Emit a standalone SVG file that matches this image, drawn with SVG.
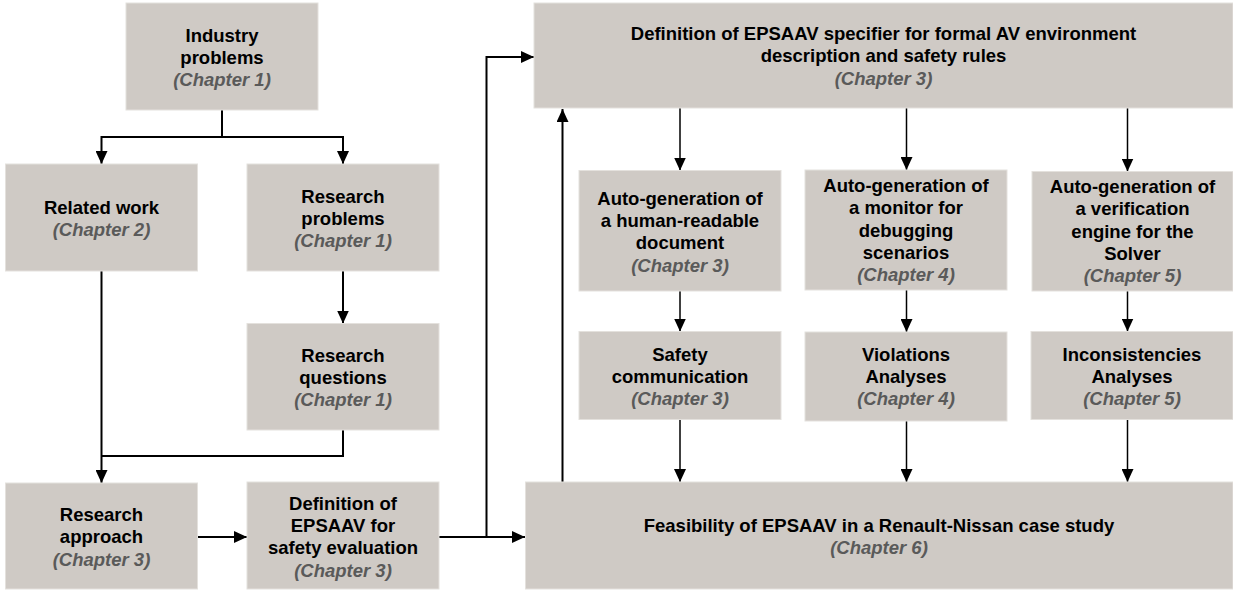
<svg xmlns="http://www.w3.org/2000/svg" width="1233" height="590" viewBox="0 0 1233 590">
  <style>
    .box { fill: #cfcac5; stroke: #e4e1dd; stroke-width: 1; }
    text { font-family: "Liberation Sans", Arial, sans-serif; font-size: 18.5px; font-weight: bold; text-anchor: middle; fill: #000; }
    .ch { font-style: italic; fill: #5a5a5a; }
    .conn { fill: none; stroke: #000; }
    .thick { stroke-width: 2; }
    .thin { stroke-width: 1.5; }
  </style>
  <defs>
    <marker id="arrow" viewBox="0 0 13 12" refX="13" refY="6" markerWidth="13" markerHeight="12" markerUnits="userSpaceOnUse" orient="auto">
      <path d="M0,0 L13,6 L0,12 z" fill="#000"/>
    </marker>
  </defs>
  <rect width="1233" height="590" fill="#fff"/>

  <!-- connectors -->
  <g id="connectors">
    <path class="conn thick" d="M222,110 V137 H101.5 V164" marker-end="url(#arrow)"/>
    <path class="conn thick" d="M222,137 H343 V164" marker-end="url(#arrow)"/>
    <path class="conn thick" d="M101.5,271 V483" marker-end="url(#arrow)"/>
    <path class="conn thick" d="M343,271 V323.5" marker-end="url(#arrow)"/>
    <path class="conn thick" d="M343,430 V456 H101.5"/>
    <path class="conn thick" d="M197,537 H247" marker-end="url(#arrow)"/>
    <path class="conn thick" d="M439,537 H525" marker-end="url(#arrow)"/>
    <path class="conn thick" d="M486.5,537 V57 H534" marker-end="url(#arrow)"/>
    <path class="conn thick" d="M562.5,482 V109" marker-end="url(#arrow)"/>
    <path class="conn thin" d="M680,108 V170.5" marker-end="url(#arrow)"/>
    <path class="conn thin" d="M906.5,108 V170" marker-end="url(#arrow)"/>
    <path class="conn thin" d="M1127.5,108 V171.5" marker-end="url(#arrow)"/>
    <path class="conn thin" d="M680,291 V331.5" marker-end="url(#arrow)"/>
    <path class="conn thin" d="M906.5,290 V332" marker-end="url(#arrow)"/>
    <path class="conn thin" d="M1127.5,291 V331.5" marker-end="url(#arrow)"/>
    <path class="conn thin" d="M680,419.5 V482" marker-end="url(#arrow)"/>
    <path class="conn thin" d="M906.5,421 V482" marker-end="url(#arrow)"/>
    <path class="conn thin" d="M1127.5,419.5 V482" marker-end="url(#arrow)"/>
  </g>

  <g id="industry-problems">
    <rect class="box" x="126" y="3" width="192" height="107"/>
    <text x="222" y="41.5">Industry</text>
    <text x="222" y="63.5">problems</text>
    <text class="ch" x="222" y="85.5">(Chapter 1)</text>
  </g>

  <g id="related-work">
    <rect class="box" x="5.5" y="164" width="192" height="107"/>
    <text x="101.5" y="213.5">Related work</text>
    <text class="ch" x="101.5" y="235.5">(Chapter 2)</text>
  </g>

  <g id="research-problems">
    <rect class="box" x="247" y="164" width="192" height="107"/>
    <text x="343" y="203">Research</text>
    <text x="343" y="225">problems</text>
    <text class="ch" x="343" y="247">(Chapter 1)</text>
  </g>

  <g id="research-questions">
    <rect class="box" x="247" y="323.5" width="192" height="106.5"/>
    <text x="343" y="362">Research</text>
    <text x="343" y="384">questions</text>
    <text class="ch" x="343" y="406">(Chapter 1)</text>
  </g>

  <g id="research-approach">
    <rect class="box" x="5.5" y="483" width="192" height="106"/>
    <text x="101.5" y="521">Research</text>
    <text x="101.5" y="543">approach</text>
    <text class="ch" x="101.5" y="565.5">(Chapter 3)</text>
  </g>

  <g id="epsaav-definition">
    <rect class="box" x="247" y="482" width="192" height="107"/>
    <text x="343" y="510">Definition of</text>
    <text x="343" y="532">EPSAAV for</text>
    <text x="343" y="554">safety evaluation</text>
    <text class="ch" x="343" y="576.5">(Chapter 3)</text>
  </g>

  <g id="epsaav-specifier">
    <rect class="box" x="534" y="3" width="699" height="105"/>
    <text x="883.5" y="40">Definition of EPSAAV specifier for formal AV environment</text>
    <text x="883.5" y="62">description and safety rules</text>
    <text class="ch" x="883.5" y="84.5">(Chapter 3)</text>
  </g>

  <g id="human-readable-document">
    <rect class="box" x="579" y="170.5" width="202" height="120.5"/>
    <text x="680" y="205">Auto-generation of</text>
    <text x="680" y="227">a human-readable</text>
    <text x="680" y="249">document</text>
    <text class="ch" x="680" y="271.5">(Chapter 3)</text>
  </g>

  <g id="debugging-monitor">
    <rect class="box" x="805" y="170" width="202" height="120"/>
    <text x="906" y="192">Auto-generation of</text>
    <text x="906" y="214">a monitor for</text>
    <text x="906" y="236.5">debugging</text>
    <text x="906" y="258.5">scenarios</text>
    <text class="ch" x="906" y="281">(Chapter 4)</text>
  </g>

  <g id="verification-engine">
    <rect class="box" x="1032" y="171.5" width="201" height="119.5"/>
    <text x="1132.5" y="192.5">Auto-generation of</text>
    <text x="1132.5" y="215">a verification</text>
    <text x="1132.5" y="237.5">engine for the</text>
    <text x="1132.5" y="259.5">Solver</text>
    <text class="ch" x="1132.5" y="282">(Chapter 5)</text>
  </g>

  <g id="safety-communication">
    <rect class="box" x="579" y="331.5" width="202" height="88"/>
    <text x="680" y="361">Safety</text>
    <text x="680" y="383">communication</text>
    <text class="ch" x="680" y="405">(Chapter 3)</text>
  </g>

  <g id="violations-analyses">
    <rect class="box" x="805" y="332" width="202" height="89"/>
    <text x="906" y="361">Violations</text>
    <text x="906" y="383">Analyses</text>
    <text class="ch" x="906" y="405">(Chapter 4)</text>
  </g>

  <g id="inconsistencies-analyses">
    <rect class="box" x="1031" y="331.5" width="202" height="88"/>
    <text x="1132" y="361">Inconsistencies</text>
    <text x="1132" y="383">Analyses</text>
    <text class="ch" x="1132" y="405">(Chapter 5)</text>
  </g>

  <g id="renault-nissan-case-study">
    <rect class="box" x="525.5" y="482" width="707.5" height="107"/>
    <text x="879" y="531.5">Feasibility of EPSAAV in a Renault-Nissan case study</text>
    <text class="ch" x="879" y="553.5">(Chapter 6)</text>
  </g>
</svg>
